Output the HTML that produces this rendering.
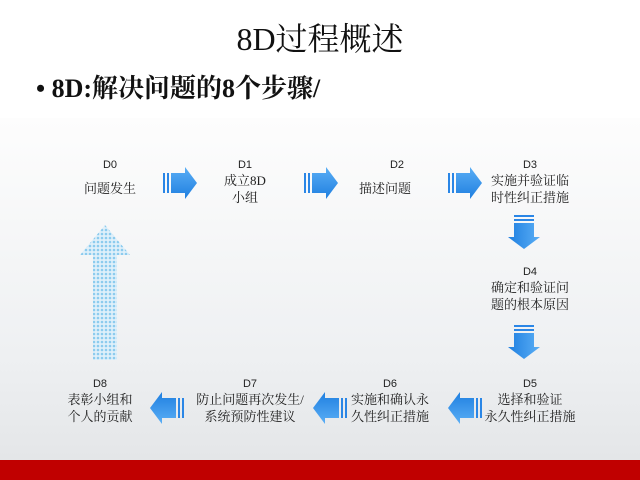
<!DOCTYPE html>
<html><head><meta charset="utf-8"><style>
body{margin:0;width:640px;height:480px;overflow:hidden;background:#fff;font-family:"Liberation Serif","Noto Serif CJK SC",serif}
.t{position:absolute;text-align:center;color:#222;font-size:13px;line-height:17px;white-space:nowrap}
.d{font-family:"Liberation Sans","Noto Sans CJK SC",sans-serif;font-size:11px;line-height:14px;display:block}
</style></head><body>
<div style="position:absolute;left:0;top:118px;width:640px;height:342px;background:linear-gradient(#fdfdfd,#eef0f2 70%,#e4e6e8)"></div>
<div style="position:absolute;left:0;top:460px;width:640px;height:20px;background:#c00000"></div>
<div style="position:absolute;left:0;top:14px;width:640px;text-align:center;font-size:32px;color:#111">8D过程概述</div>
<div style="position:absolute;left:36px;top:68px;font-size:26px;color:#111;font-weight:bold">• 8D:解决问题的8个步骤/</div>
<svg style="position:absolute;left:0;top:0" width="640" height="480">
<defs><linearGradient id="g" x1="0" y1="0" x2="0" y2="1"><stop offset="0" stop-color="#5aaef5"/><stop offset="1" stop-color="#1f7fe0"/></linearGradient>
<pattern id="p" width="4" height="4" patternUnits="userSpaceOnUse"><rect width="4" height="4" fill="#dff0fa"/><circle cx="2" cy="2" r="1.3" fill="#8ccbee"/></pattern>
<g id="ar"><rect x="0" y="-10" width="2" height="20" fill="#2a86e6"/><rect x="4" y="-10" width="2" height="20" fill="#2a86e6"/><path d="M8,-10H22V-16L34,0L22,16V10H8Z" fill="url(#g)"/></g></defs>
<use href="#ar" x="163" y="183"/>
<use href="#ar" x="304" y="183"/>
<use href="#ar" x="448" y="183"/>
<use href="#ar" transform="translate(524,215) rotate(90)"/>
<use href="#ar" transform="translate(524,325) rotate(90)"/>
<use href="#ar" transform="translate(482,408) rotate(180)"/>
<use href="#ar" transform="translate(347,408) rotate(180)"/>
<use href="#ar" transform="translate(184,408) rotate(180)"/>
<path d="M105,225L130,255H117V360H93V255H80Z" fill="url(#p)"/>
</svg>
<div class="t" style="left:70px;top:158px;width:80px"><span class="d">D0</span><span style="position:relative;top:8px">问题发生</span></div>
<div class="t" style="left:205px;top:158px;width:80px"><span class="d">D1</span>成立8D<br>小组</div>
<div class="t" style="left:345px;top:158px;width:80px"><span class="d" style="position:relative;left:12px">D2</span><span style="position:relative;top:8px">描述问题</span></div>
<div class="t" style="left:480px;top:158px;width:100px"><span class="d">D3</span>实施并验证临<br>时性纠正措施</div>
<div class="t" style="left:480px;top:265px;width:100px"><span class="d">D4</span>确定和验证问<br>题的根本原因</div>
<div class="t" style="left:480px;top:377px;width:100px"><span class="d">D5</span>选择和验证<br>永久性纠正措施</div>
<div class="t" style="left:345px;top:377px;width:90px"><span class="d">D6</span>实施和确认永<br>久性纠正措施</div>
<div class="t" style="left:190px;top:377px;width:120px"><span class="d">D7</span>防止问题再次发生/<br>系统预防性建议</div>
<div class="t" style="left:60px;top:377px;width:80px"><span class="d">D8</span>表彰小组和<br>个人的贡献</div>
</body></html>
